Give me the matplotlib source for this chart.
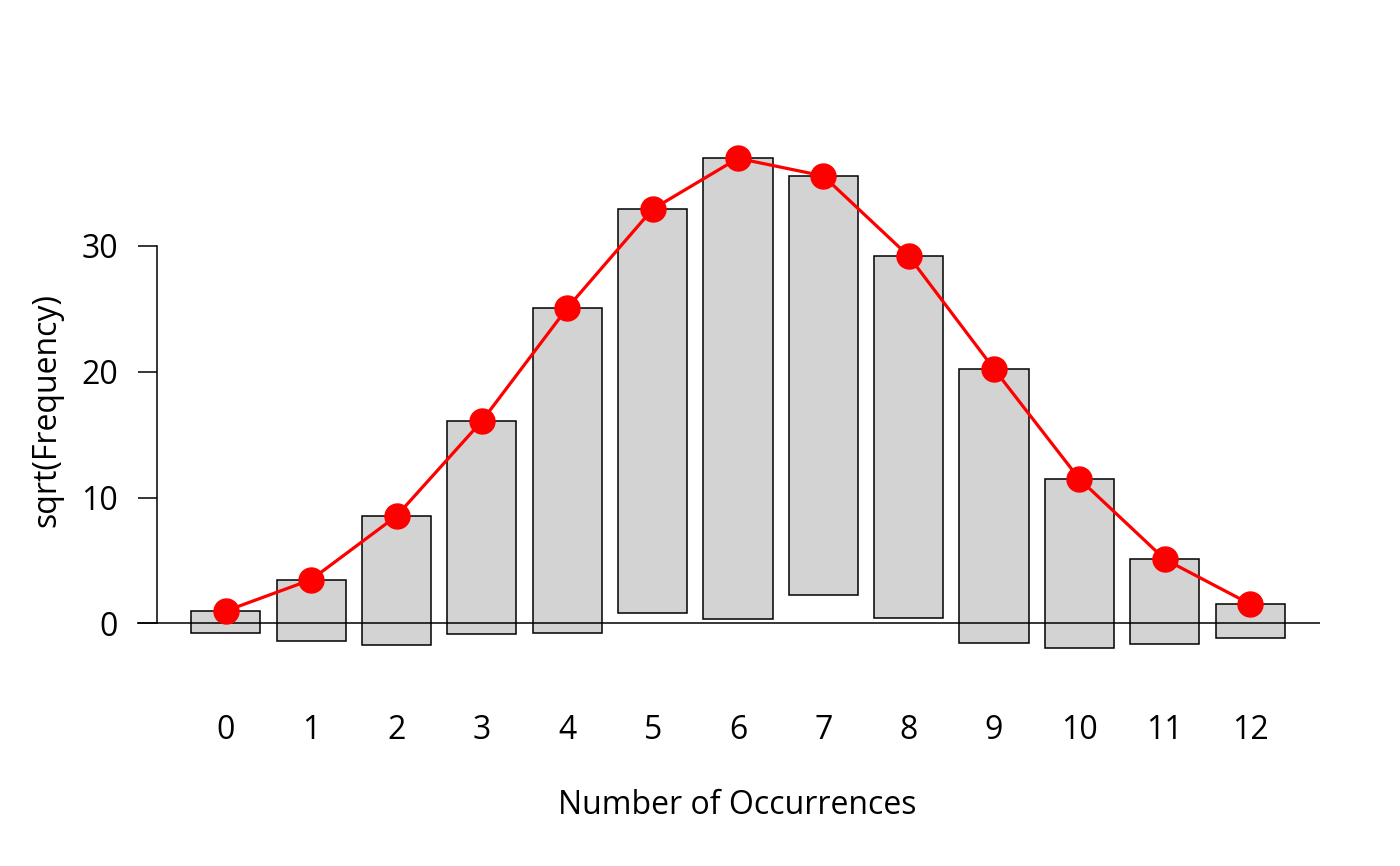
import matplotlib
matplotlib.use("Agg")
import matplotlib.pyplot as plt
import numpy as np

# hanging rootogram: bars hang from the expected curve
counts = list(range(13))
sqrt_expected = [0.98, 3.47, 8.53, 16.08, 25.07, 32.93, 36.97,
                 35.57, 29.20, 20.22, 11.47, 5.09, 1.53]
sqrt_observed = [1.78, 4.90, 10.28, 16.91, 25.87, 32.13, 36.65,
                 33.34, 28.78, 21.81, 13.43, 6.71, 2.67]
y_ticks = [0, 10, 20, 30]

plt.rcParams["font.family"] = ["Open Sans", "DejaVu Sans"]
FS = 23

W, H = 1400, 866
fig = plt.figure(figsize=(W / 100, H / 100), dpi=100)
# plot region in pixels
left_px, right_px, top_px, bottom_px = 137, 1320, 100, 700
ax = fig.add_axes([left_px / W, 1 - bottom_px / H,
                   (right_px - left_px) / W, (bottom_px - top_px) / H])

x0_px, dx_px = 225.8, 85.36
zero_px, dy_px = 623.3, 12.577
ax.set_xlim((left_px - x0_px) / dx_px, (right_px - x0_px) / dx_px)
ax.set_ylim(-(bottom_px - zero_px) / dy_px, (zero_px - top_px) / dy_px)

exp = np.array(sqrt_expected)
obs = np.array(sqrt_observed)
ax.bar(counts, obs, bottom=exp - obs, width=0.81, color="#d3d3d3",
       edgecolor="black", linewidth=1.1, zorder=2)
ax.axhline(0, color="black", linewidth=1.1, zorder=3)
ax.plot(counts, exp, "-", color="red", linewidth=2.3, zorder=4)
ax.plot(counts, exp, "o", color="red", markersize=18, zorder=5)

for s in ["top", "right", "bottom"]:
    ax.spines[s].set_visible(False)
ax.spines["left"].set_position(("data", (157 - x0_px) / dx_px))
ax.spines["left"].set_bounds(0, 30)
ax.spines["left"].set_linewidth(1.1)

ax.set_yticks(y_ticks)
ax.tick_params(axis="y", length=14, width=1.1, labelsize=FS, pad=14)
ax.set_xticks(counts)
ax.tick_params(axis="x", length=0, labelsize=FS, pad=10)

ax.set_xlabel("Number of Occurrences", fontsize=FS, labelpad=30)
ax.xaxis.label.set_x((737 - left_px) / (right_px - left_px))
ax.set_ylabel("sqrt(Frequency)", fontsize=FS)
ax.yaxis.set_label_coords((63 - left_px) / (right_px - left_px),
                          1 - (410 - top_px) / (bottom_px - top_px))

fig.savefig("out.png", dpi=100)
